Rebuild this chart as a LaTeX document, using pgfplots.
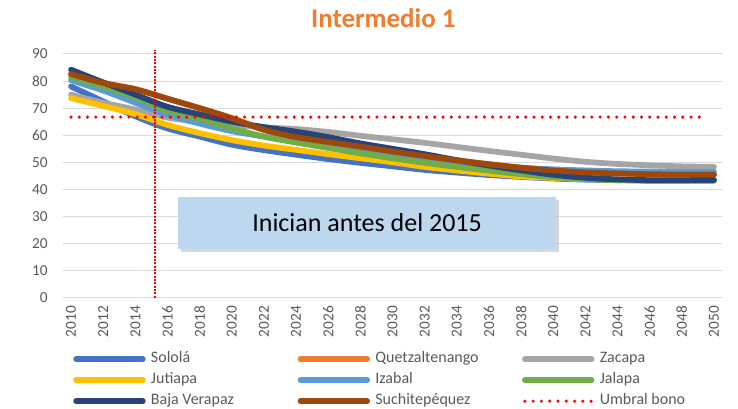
\documentclass[border=0pt]{standalone}
\usepackage{pgfplots}
\pgfplotsset{compat=1.18}
\usepackage{fontspec}
\setmainfont{Carlito}
\usetikzlibrary{shadows}
\definecolor{cSolola}{HTML}{4472C4}
\definecolor{cQuetz}{HTML}{ED7D31}
\definecolor{cZacapa}{HTML}{A5A5A5}
\definecolor{cJutiapa}{HTML}{FFC000}
\definecolor{cIzabal}{HTML}{5B9BD5}
\definecolor{cJalapa}{HTML}{70AD47}
\definecolor{cBaja}{HTML}{264478}
\definecolor{cSuchi}{HTML}{9E480E}
\definecolor{gridgray}{HTML}{D9D9D9}
\definecolor{labelgray}{HTML}{595959}
\definecolor{boxblue}{HTML}{BDD7EE}
\definecolor{titleorange}{HTML}{ED7D31}
\begin{document}
\begin{tikzpicture}
\path[use as bounding box] (0pt,0pt) rectangle (553.5pt,306.75pt);
\node[font=\bfseries\fontsize{20.2}{24}\selectfont, text=titleorange] at (287.5pt,293.25pt) {Intermedio 1};
\begin{axis}[
  at={(47.25pt,83.475pt)}, anchor=south west,
  scale only axis, width=494.25pt, height=182.775pt,
  xmin=2009.5, xmax=2050.5, ymin=0, ymax=90,
  xtick={2010,2012,...,2050}, ytick={0,10,...,90},
  ymajorgrids, grid style={color=gridgray, line width=0.75pt},
  axis line style={draw=none}, major tick length=0pt,
  tick label style={font=\fontsize{11.5}{13}\selectfont, text=labelgray},
  /pgf/number format/assume math mode=true,
  /pgf/number format/1000 sep={},
  xticklabel style={rotate=90, anchor=east, inner sep=0pt},
  xticklabel shift=6pt,
  yticklabel style={anchor=east, inner sep=0pt},
  yticklabel shift=11.25pt,
  clip=false,
  legend columns=3,
  legend cell align=left,
  legend style={draw=none, fill=none, at={(0.01517,-0.2226)}, anchor=north west,
    inner sep=0pt, row sep=5.25pt, font=\fontsize{12}{14}\selectfont, text=labelgray,
    nodes={inner sep=0pt, text height=8pt, text depth=2.5pt},
    /tikz/every odd column/.append style={column sep=4pt},
    /tikz/every even column/.append style={column sep=10pt}},
  legend image code/.code={\draw[#1, line cap=round] (2pt,0pt) -- (52pt,0pt);},
  every axis plot/.append style={line width=4.3pt, line cap=round, line join=round, smooth},
]
\addplot[cSolola] coordinates {(2010,78) (2012,72.5) (2014,67) (2016,62.5) (2018,59.5) (2020,56.5) (2022,54.5) (2024,52.8) (2026,51.2) (2028,49.8) (2030,48.5) (2032,47.2) (2034,46.2) (2036,45.3) (2038,44.6) (2040,44.0) (2042,43.6) (2044,43.4) (2046,43.3) (2048,43.3) (2050,43.3)};
\addlegendentry{\makebox[100pt][l]{Sololá}}
\addplot[cQuetz] coordinates {(2010,82.6) (2012,79.3) (2014,77) (2016,73.5) (2018,70) (2020,66.3) (2022,62) (2024,59.3) (2026,57.5) (2028,55.8) (2030,54) (2032,52.3) (2034,50.7) (2036,49.3) (2038,48) (2040,47) (2042,46.3) (2044,45.9) (2046,45.6) (2048,45.5) (2050,45.5)};
\addlegendentry{\makebox[100pt][l]{Quetzaltenango}}
\addplot[cZacapa] coordinates {(2010,75) (2012,72) (2014,69.5) (2016,66.5) (2018,65) (2020,63.8) (2022,62.9) (2024,62.3) (2026,61.2) (2028,59.8) (2030,58.5) (2032,57.2) (2034,55.7) (2036,54.2) (2038,52.8) (2040,51.4) (2042,50.2) (2044,49.4) (2046,48.9) (2048,48.5) (2050,48.3)};
\addlegendentry{\makebox[100pt][l]{Zacapa}}
\addplot[cJutiapa] coordinates {(2010,73.7) (2012,70.8) (2014,67.8) (2016,63.8) (2018,60.8) (2020,58.2) (2022,56.2) (2024,54.6) (2026,53) (2028,51.5) (2030,50) (2032,48.3) (2034,47) (2036,45.8) (2038,44.8) (2040,44.2) (2042,43.8) (2044,43.6) (2046,43.5) (2048,43.5) (2050,43.5)};
\addlegendentry{\makebox[100pt][l]{Jutiapa}}
\addplot[cIzabal] coordinates {(2010,80.3) (2012,76.5) (2014,72) (2016,67.5) (2018,64.3) (2020,61.5) (2022,59.5) (2024,57.5) (2026,55.8) (2028,54.2) (2030,52.7) (2032,51.2) (2034,50) (2036,48.9) (2038,48) (2040,47.4) (2042,47) (2044,46.7) (2046,46.6) (2048,46.5) (2050,46.5)};
\addlegendentry{\makebox[100pt][l]{Izabal}}
\addplot[cJalapa] coordinates {(2010,81.5) (2012,78) (2014,74) (2016,69) (2018,66) (2020,62.5) (2022,59.5) (2024,57.3) (2026,55.3) (2028,53.3) (2030,51.5) (2032,49.8) (2034,48.3) (2036,46.9) (2038,45.6) (2040,44.5) (2042,43.8) (2044,43.4) (2046,43.2) (2048,43.2) (2050,43.2)};
\addlegendentry{\makebox[100pt][l]{Jalapa}}
\addplot[cBaja] coordinates {(2010,84.2) (2012,79.5) (2014,75) (2016,70.5) (2018,67.7) (2020,65) (2022,63) (2024,61.3) (2026,59.3) (2028,57) (2030,55) (2032,53) (2034,50.8) (2036,48.8) (2038,47) (2040,45.4) (2042,44.3) (2044,43.7) (2046,43.4) (2048,43.4) (2050,43.5)};
\addlegendentry{\makebox[100pt][l]{Baja Verapaz}}
\addplot[cSuchi] coordinates {(2010,82.6) (2012,79.3) (2014,77) (2016,73.5) (2018,70) (2020,66.3) (2022,62) (2024,59.3) (2026,57.5) (2028,55.8) (2030,54) (2032,52.3) (2034,50.7) (2036,49.3) (2038,48) (2040,47) (2042,46.3) (2044,45.9) (2046,45.6) (2048,45.5) (2050,45.5)};
\addlegendentry{\makebox[100pt][l]{Suchitepéquez}}
\addplot[red, line width=2.6pt, line cap=round, dash pattern=on 0pt off 6.2pt, sharp plot] coordinates {(2010,66.7) (2049.6,66.7)};
\addlegendentry{\makebox[100pt][l]{Umbral bono}}
\addplot[red, line width=1.1pt, line cap=butt, dash pattern=on 1.5pt off 1pt, sharp plot, forget plot] coordinates {(2015.23,0) (2015.23,91.5)};
\node[fill=boxblue, minimum width=283.5pt, minimum height=39pt, inner sep=0pt,
  drop shadow={shadow xshift=2.5pt, shadow yshift=-2.5pt, fill=black!35, opacity=0.45},
  font=\fontsize{19.5}{22}\selectfont, text=black] at (axis cs:2028.42,27.63) {Inician antes del 2015};
\end{axis}
\end{tikzpicture}
\end{document}
